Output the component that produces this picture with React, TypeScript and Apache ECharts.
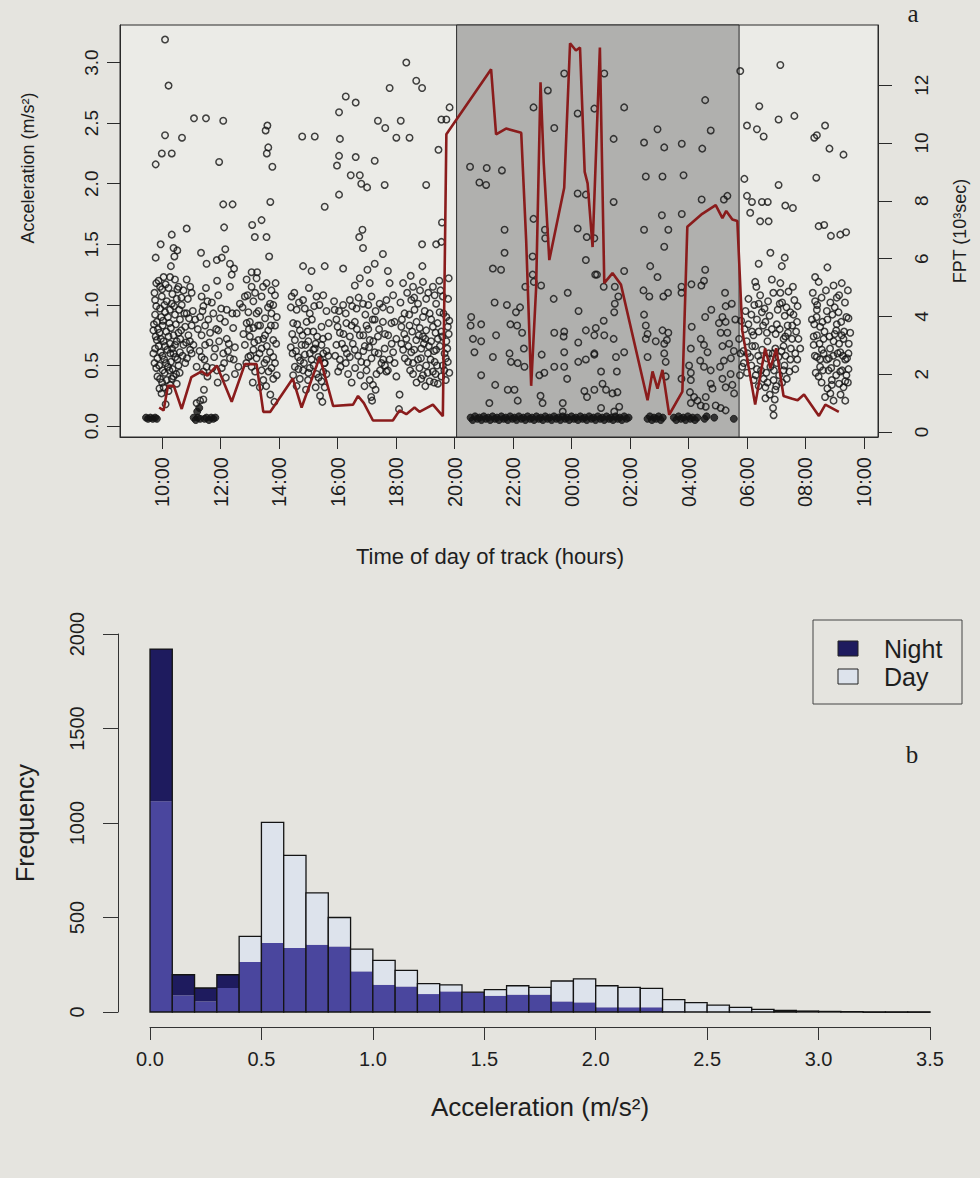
import React, { useEffect, useRef } from 'react';
import * as echarts from 'echarts';

// ---------- Panel a data ----------
const timeTicks = [10, 12, 14, 16, 18, 20, 22, 24, 26, 28, 30, 32, 34];
const accTicks = [0, 0.5, 1, 1.5, 2, 2.5, 3];
const fptTicks = [0, 2, 4, 6, 8, 10, 12];
const nightStart = 20.07;
const nightEnd = 29.73;

// FPT (10^3 sec) vs hour (hours counted from midnight of day 1)
const fptLine = [
  [9.9,0.85],[10.05,0.75],[10.2,1.6],[10.4,1.6],[10.67,0.8],[11.0,1.9],[11.35,2.1],[11.55,1.95],[11.87,2.3],[12.38,1.05],
  [12.83,2.35],[13.23,2.35],[13.46,0.7],[13.7,0.7],[14.47,1.85],[14.77,0.85],[15.39,2.6],[15.85,0.9],[16.53,0.95],[16.7,1.25],
  [16.9,1.0],[17.21,0.4],[17.89,0.4],[18.12,0.75],[18.35,0.62],[18.63,0.85],[18.8,0.7],[19.26,0.95],[19.6,0.55],[19.72,10.3],
  [21.25,12.55],[21.42,10.3],[21.76,10.5],[22.28,10.35],[22.45,6.6],[22.62,1.6],[22.79,5.0],[22.94,12.1],[23.05,9.3],[23.24,5.95],
  [23.75,8.45],[23.95,13.45],[24.15,13.2],[24.29,13.3],[24.45,9.0],[24.55,8.6],[24.72,6.4],[24.97,13.3],[25.12,5.15],[25.4,5.5],
  [25.69,5.1],[26.6,1.1],[26.77,2.1],[26.94,1.5],[27.11,2.15],[27.34,0.6],[27.79,1.4],[27.96,7.1],[28.47,7.55],[28.93,7.85],
  [29.16,7.4],[29.29,7.65],[29.5,7.35],[29.67,7.3],[29.84,3.5],[30.28,0.95],[30.62,2.9],[30.8,2.2],[31.0,2.9],[31.25,1.25],
  [31.55,1.15],[31.73,1.1],[31.95,1.3],[32.46,0.56],[32.68,0.95],[33.14,0.7]
];

// acceleration points, first day period
const dayBefore = [
  [10.10,3.19],[10.22,2.81],[11.09,2.54],[11.50,2.54],[12.09,2.52],[10.10,2.40],[10.68,2.38],[9.99,2.25],[10.33,2.25],[9.78,2.16],
  [11.95,2.18],[13.60,2.48],[13.54,2.44],[13.63,2.30],[13.58,2.25],[13.77,2.14],[12.09,1.83],[12.41,1.83],[13.70,1.85],[12.12,1.64],
  [13.08,1.66],[13.40,1.70],[13.17,1.56],[13.57,1.56],[10.84,1.63],[10.33,1.58],[9.95,1.50],[10.39,1.47],[10.52,1.45],[9.78,1.39],
  [10.42,1.40],[11.33,1.43],[12.16,1.46],[12.04,1.39],[11.87,1.37],[11.52,1.34],[12.32,1.34],[12.46,1.30],[13.66,1.40],[10.30,1.32],[13.06,1.27],
  [9.80,1.18],[10.05,1.23],[10.27,1.23],[10.44,1.21],[9.93,1.15],[10.22,1.14],[10.56,1.15],[10.73,1.12],[10.84,1.21],[10.96,1.15],
  [11.01,1.10],[9.76,1.04],[9.99,1.07],[10.16,1.03],[10.33,1.01],[10.50,1.05],[10.67,1.00],[9.93,0.97],[10.10,0.94],[10.27,0.96],
  [9.76,0.92],[10.44,0.92],[10.61,0.88],[10.84,0.93],[9.82,0.86],[10.02,0.83],[10.25,0.85],[10.79,0.82],[11.01,0.83],[9.70,0.79],
  [9.91,0.77],[10.14,0.78],[10.39,0.75],[10.56,0.77],[10.90,0.75],[9.82,0.71],[10.05,0.70],[10.27,0.68],[10.50,0.70],[10.73,0.67],
  [9.76,0.64],[9.95,0.61],[10.18,0.63],[10.39,0.60],[10.61,0.61],[10.96,0.63],[9.84,0.56],[10.07,0.55],[10.30,0.53],[10.52,0.55],
  [10.79,0.52],[9.80,0.48],[10.02,0.46],[10.25,0.46],[10.48,0.43],[9.93,0.39],[10.16,0.38],[10.39,0.41],[10.05,0.32],[10.27,0.34],[9.91,0.31],
  [9.74,1.10],[9.88,1.20],[10.00,1.13],[10.12,1.17],[10.35,1.09],[10.52,1.13],[10.66,1.06],[9.80,0.99],[9.97,0.90],[10.08,1.00],
  [10.20,0.90],[10.41,0.99],[10.58,0.96],[10.76,0.93],[10.92,0.89],[9.72,0.84],[9.86,0.80],[10.03,0.87],[10.30,0.81],[10.47,0.84],
  [10.65,0.79],[9.78,0.74],[9.96,0.72],[10.10,0.66],[10.22,0.74],[10.34,0.64],[10.44,0.67],[10.62,0.72],[10.82,0.69],[9.70,0.60],
  [9.88,0.66],[10.01,0.58],[10.13,0.52],[10.28,0.60],[10.45,0.57],[10.56,0.50],[10.70,0.58],[9.74,0.52],[9.90,0.50],[10.09,0.44],
  [10.20,0.49],[10.36,0.47],[10.60,0.44],[9.84,0.41],[10.00,0.36],[10.33,0.39],[10.50,0.35],[9.98,0.27],[10.22,0.29],[10.12,0.18],
  [11.05,0.95],[10.88,1.05],[10.95,0.70],[10.85,0.56],
  [11.35,1.07],[11.41,0.99],[11.55,1.03],[11.30,0.90],[11.47,0.83],[11.75,0.93],[11.98,0.89],[12.21,0.96],[11.92,1.08],[12.32,1.15],
  [11.35,0.75],[11.64,0.77],[11.92,0.79],[12.21,0.72],[12.43,0.81],[11.47,0.67],[11.81,0.64],[12.09,0.60],[11.35,0.57],[12.32,0.56],
  [11.52,0.49],[11.87,0.46],[12.49,0.43],[11.41,0.45],[12.04,0.48],[11.18,0.49],[11.07,0.67],[11.13,0.88],[11.01,0.60],[11.30,0.21],
  [11.18,0.19],[11.41,0.22],[11.43,0.30],
  [11.22,0.80],[11.38,0.95],[11.58,0.88],[11.70,1.02],[11.85,0.80],[12.02,0.97],[12.15,0.86],[12.28,0.68],[12.40,0.93],[11.28,0.62],
  [11.45,0.55],[11.62,0.69],[11.78,0.57],[11.95,0.70],[12.12,0.52],[12.25,0.62],[11.55,0.41],[11.72,0.48],[12.18,0.40],[11.90,0.36],
  [12.45,0.55],[11.50,1.14],[11.88,1.20],[12.38,1.25],
  [12.89,1.21],[13.06,1.15],[13.23,1.22],[13.57,1.18],[13.74,1.12],[12.83,1.07],[13.12,1.03],[13.40,1.07],[13.69,1.01],[13.86,1.08],
  [12.95,0.94],[13.23,0.93],[13.52,0.89],[13.74,0.93],[12.89,0.85],[13.12,0.81],[13.35,0.83],[13.63,0.79],[13.86,0.83],[13.00,0.74],
  [13.29,0.71],[13.52,0.75],[13.80,0.71],[12.83,0.67],[13.12,0.63],[13.40,0.64],[13.69,0.61],[12.95,0.57],[13.23,0.56],[13.57,0.55],
  [13.80,0.57],[13.06,0.49],[13.40,0.46],[13.74,0.48],[13.46,0.38],[13.80,0.39],[13.34,0.32],[12.49,0.65],[12.61,0.49],[12.55,0.93],[12.66,1.01],
  [12.75,0.98],[12.92,1.08],[13.00,0.86],[13.18,1.10],[13.30,0.95],[13.45,1.15],[13.62,0.98],[13.80,1.00],[13.92,0.90],[12.78,0.76],
  [12.97,0.80],[13.15,0.69],[13.28,0.83],[13.46,0.72],[13.58,0.66],[13.72,0.83],[13.90,0.68],[12.88,0.52],[13.02,0.58],[13.18,0.45],
  [13.33,0.60],[13.50,0.52],[13.64,0.45],[13.86,0.52],[13.10,0.36],[13.56,0.33],[13.92,0.42],[13.70,0.26],[13.84,0.20],[13.25,1.27],[13.88,1.18],
  [18.35,3.00],[18.69,2.85],[18.89,2.79],[17.78,2.79],[16.28,2.72],[16.62,2.67],[16.05,2.59],[17.38,2.52],[18.16,2.52],[17.63,2.46],
  [19.83,2.63],[19.55,2.53],[19.72,2.53],[14.79,2.39],[15.22,2.39],[16.08,2.37],[18.01,2.38],[18.46,2.38],[19.45,2.28],[16.05,2.23],
  [15.98,2.15],[16.62,2.22],[17.27,2.19],[16.45,2.07],[16.76,2.07],[16.81,2.00],[17.01,1.97],[17.61,1.99],[19.03,1.99],[16.05,1.91],
  [15.56,1.81],[16.85,1.62],[16.74,1.56],[16.87,1.47],[19.57,1.68],[19.55,1.52],[19.37,1.50],[18.89,1.50],[17.55,1.42],[17.27,1.34],
  [18.90,1.32],[14.82,1.32],[15.11,1.28],[15.56,1.32],[16.19,1.30],[17.02,1.29],[16.76,1.22],[17.72,1.28],[18.12,0.26],[18.10,0.14],
  [14.43,1.07],[14.60,0.96],[14.82,1.04],[15.05,0.93],[15.28,1.07],[15.51,1.08],[14.48,0.85],[14.71,0.79],[14.94,0.86],[15.17,0.78],
  [15.45,0.82],[15.68,0.74],[14.54,0.71],[14.77,0.67],[15.00,0.70],[15.22,0.64],[15.45,0.67],[14.46,0.60],[14.65,0.57],[14.88,0.59],
  [15.11,0.55],[15.34,0.57],[15.56,0.52],[14.54,0.49],[14.82,0.46],[15.05,0.48],[15.28,0.43],[15.51,0.45],[14.71,0.39],[14.99,0.38],
  [15.45,0.37],[15.51,0.60],[15.62,0.43],[15.17,0.63],[15.56,0.32],
  [14.40,0.98],[14.52,1.10],[14.68,1.02],[14.88,0.97],[15.02,1.14],[15.20,0.99],[15.38,1.00],[15.62,0.95],[14.45,0.76],[14.62,0.84],
  [14.80,0.75],[14.97,0.78],[15.12,0.88],[15.30,0.74],[15.50,0.72],[15.70,0.85],[14.40,0.65],[14.58,0.62],[14.72,0.54],[14.90,0.67],
  [15.05,0.60],[15.25,0.68],[15.40,0.55],[15.62,0.62],[14.48,0.42],[14.66,0.47],[14.85,0.52],[15.00,0.44],[15.18,0.50],[15.35,0.40],
  [15.55,0.52],[14.60,0.33],[14.92,0.30],[15.25,0.32],[15.40,0.25],[15.48,0.20],[15.68,0.58],
  [15.90,0.96],[16.19,1.00],[16.42,1.04],[16.65,0.97],[16.87,1.01],[17.16,1.07],[17.44,1.01],[17.67,1.04],[17.90,1.08],[16.59,1.16],
  [17.10,1.18],[17.78,1.18],[15.96,0.88],[16.30,0.85],[16.59,0.86],[16.99,0.83],[17.27,0.88],[17.55,0.86],[17.84,0.85],[16.08,0.77],
  [16.42,0.74],[16.76,0.75],[17.10,0.71],[17.38,0.74],[17.73,0.75],[18.01,0.72],[15.96,0.67],[16.25,0.64],[16.59,0.63],[16.93,0.66],
  [17.27,0.61],[17.61,0.64],[17.90,0.61],[16.08,0.55],[16.42,0.57],[16.81,0.53],[17.16,0.56],[17.50,0.52],[17.78,0.55],[16.02,0.45],
  [16.36,0.43],[16.99,0.46],[17.33,0.43],[17.67,0.45],[17.10,0.38],[17.21,0.34],[17.72,0.46],[18.01,0.41],
  [15.88,1.03],[16.05,0.95],[16.28,0.93],[16.50,0.99],[16.72,1.06],[16.95,0.92],[17.05,1.00],[17.30,0.95],[17.55,0.98],[17.80,0.96],
  [16.00,0.82],[16.20,0.76],[16.48,0.83],[16.66,0.80],[16.88,0.75],[17.05,0.80],[17.20,0.88],[17.42,0.80],[17.62,0.76],[17.95,0.86],
  [15.92,0.58],[16.15,0.68],[16.32,0.60],[16.52,0.68],[16.70,0.58],[16.88,0.62],[17.08,0.65],[17.22,0.70],[17.40,0.60],[17.56,0.55],
  [17.85,0.68],[16.10,0.49],[16.28,0.52],[16.60,0.48],[16.78,0.42],[17.00,0.52],[17.45,0.46],[17.62,0.50],[17.95,0.52],[16.48,0.36],
  [16.92,0.33],[17.30,0.30],[17.15,0.24],[17.18,0.21],
  [18.24,1.18],[18.58,1.15],[18.92,1.19],[19.26,1.15],[18.52,1.04],[18.75,1.01],[19.03,1.05],[19.37,1.01],[19.60,1.07],[18.29,0.93],
  [18.63,0.96],[18.92,0.90],[19.15,0.93],[19.49,0.94],[19.72,0.90],[18.18,0.82],[18.46,0.83],[18.81,0.81],[19.03,0.79],[19.26,0.82],
  [19.55,0.78],[19.77,0.82],[18.35,0.72],[18.69,0.71],[18.92,0.74],[19.20,0.70],[19.43,0.72],[19.72,0.70],[18.24,0.63],[18.52,0.61],
  [18.86,0.64],[19.09,0.60],[19.37,0.63],[19.66,0.60],[18.41,0.53],[18.75,0.55],[19.03,0.50],[19.32,0.53],[19.60,0.50],[19.77,0.53],
  [18.58,0.43],[18.92,0.42],[19.26,0.45],[19.55,0.41],[19.15,0.37],[19.43,0.35],[18.86,0.39],
  [18.15,1.02],[18.38,1.10],[18.62,1.06],[18.82,1.12],[19.10,1.10],[19.32,1.08],[19.52,1.12],[19.78,1.05],[18.20,0.88],[18.45,0.92],
  [18.70,0.86],[18.98,0.95],[19.20,0.88],[19.42,0.85],[19.62,0.93],[19.82,0.87],[18.28,0.76],[18.55,0.78],[18.78,0.75],[19.00,0.72],
  [19.35,0.77],[19.58,0.74],[19.80,0.76],[18.18,0.68],[18.42,0.66],[18.62,0.63],[18.95,0.68],[19.12,0.66],[19.30,0.62],[19.50,0.66],
  [19.75,0.64],[18.30,0.56],[18.58,0.52],[18.85,0.56],[19.18,0.55],[19.40,0.50],[19.70,0.56],[18.48,0.46],[18.80,0.48],[19.08,0.44],
  [19.35,0.43],[19.65,0.46],[19.82,0.44],[18.70,0.36],[19.00,0.33],[19.30,0.36],[19.70,0.38],[19.80,1.22],[19.48,1.20],[18.50,1.24]
];

// acceleration points, night period
const nightPts = [
  [20.53,2.14],[21.10,2.13],[21.62,2.11],[20.85,2.01],[21.08,1.99],[21.71,1.62],[21.71,1.43],[21.31,1.30],[21.59,1.29],[21.37,1.02],
  [21.79,1.00],[22.10,0.94],[22.24,0.98],[20.57,0.90],[20.55,0.83],[20.91,0.84],[20.63,0.72],[20.91,0.70],[20.68,0.61],[21.42,0.75],
  [21.91,0.84],[22.14,0.83],[22.31,0.77],[21.31,0.57],[21.88,0.60],[21.93,0.53],[22.16,0.52],[22.39,0.49],[22.37,0.64],[20.91,0.42],
  [21.39,0.34],[21.82,0.30],[22.05,0.30],[21.19,0.19],[22.16,0.21],[22.70,2.63],[23.19,2.77],[23.41,2.46],[22.70,1.71],[23.09,1.62],
  [23.10,1.55],[22.67,1.40],[22.67,1.25],[22.71,1.19],[22.96,1.16],[22.42,1.15],[23.39,1.05],[23.87,1.10],[24.24,0.95],[23.41,0.77],
  [23.75,0.78],[23.73,0.74],[24.23,0.69],[23.75,0.61],[22.98,0.59],[23.41,0.49],[23.75,0.49],[24.23,0.53],[24.49,0.55],[24.78,0.59],
  [24.49,0.79],[24.78,0.75],[23.07,0.44],[22.90,0.42],[23.85,0.39],[22.94,0.25],[23.01,0.19],[23.70,0.19],[24.44,0.29],[24.53,0.24],
  [24.78,0.30],[23.70,0.12],[23.75,2.91],[24.21,2.58],[24.78,2.62],[24.21,1.92],[24.49,1.91],[24.21,1.63],[24.52,1.56],[24.49,1.37],[24.81,1.25],
  [25.12,2.91],[25.80,2.63],[25.44,2.37],[26.94,2.45],[26.48,2.34],[27.17,2.30],[27.77,2.33],[28.57,2.69],[28.76,2.44],[28.47,2.29],
  [26.54,2.06],[27.11,2.06],[27.83,2.07],[25.44,1.85],[28.45,1.87],[29.21,1.87],[29.33,1.90],[27.09,1.74],[27.77,1.75],[26.48,1.62],
  [27.31,1.62],[27.17,1.48],[24.78,1.55],[26.69,1.32],[26.94,1.23],[25.80,1.28],[28.57,1.29],[24.87,1.25],[25.10,1.15],[25.48,1.15],
  [26.46,1.12],[26.66,1.07],[27.14,1.07],[27.30,1.10],[27.76,1.15],[27.76,1.10],[28.10,1.17],[28.44,1.16],[28.53,1.20],[29.25,1.10],
  [25.60,1.07],[25.48,1.01],[25.46,0.94],[26.48,0.92],[28.57,0.90],[28.78,0.96],[29.27,0.99],[29.48,1.01],[25.10,0.87],[26.54,0.83],
  [29.16,0.90],[29.27,0.86],[24.83,0.81],[25.12,0.75],[25.44,0.72],[26.60,0.76],[26.54,0.72],[27.11,0.79],[27.31,0.77],[28.11,0.82],
  [26.88,0.70],[27.17,0.68],[27.26,0.71],[29.04,0.85],[29.10,0.77],[29.33,0.77],[29.39,0.68],[28.42,0.72],[28.53,0.67],[28.65,0.61],
  [29.16,0.66],[24.78,0.60],[25.52,0.57],[25.80,0.61],[26.60,0.57],[27.17,0.60],[28.02,0.50],[28.08,0.64],[28.40,0.54],[28.53,0.49],
  [28.76,0.46],[29.08,0.49],[29.21,0.54],[29.44,0.43],[25.01,0.45],[25.55,0.45],[27.22,0.53],[27.22,0.41],[28.08,0.44],[28.08,0.38],
  [25.06,0.35],[25.18,0.30],[25.40,0.27],[25.57,0.28],[27.76,0.39],[28.05,0.28],[28.76,0.35],[28.82,0.31],[29.16,0.39],[29.27,0.32],
  [29.50,0.34],[29.56,0.27],[28.19,0.24],[28.31,0.21],[28.08,0.19],[28.42,0.17],[28.59,0.24],[28.59,0.16],[28.93,0.17],[29.10,0.15],
  [29.27,0.13],[25.63,0.16],[25.46,0.12],[25.01,0.15],[29.60,0.88],[29.55,0.62],[29.45,0.56]
];

// acceleration points, second day period
const dayAfter = [
  [29.73,0.72],[29.78,0.60],[29.84,0.49],[29.76,0.42],[29.80,0.87],
  [29.77,2.93],[31.14,2.98],[30.42,2.64],[31.08,2.53],[31.62,2.56],[30.00,2.48],[30.34,2.45],[30.57,2.39],[32.67,2.48],[32.39,2.40],
  [32.30,2.38],[32.82,2.29],[33.30,2.24],[29.91,2.04],[31.08,1.99],[32.37,2.05],[30.00,1.90],[30.17,1.85],[30.51,1.85],[30.71,1.85],
  [31.31,1.82],[31.57,1.80],[30.11,1.76],[30.45,1.69],[30.74,1.69],[32.45,1.65],[32.64,1.66],[32.87,1.57],[33.19,1.58],[33.39,1.60],
  [30.80,1.43],[30.40,1.34],[31.29,1.39],[31.19,1.32],[32.75,1.31],[30.85,1.21],[31.14,1.18],[30.28,1.19],[30.32,1.15],[32.33,1.23],
  [32.45,1.19],[32.96,1.16],[33.24,1.18],[31.57,1.15],[31.42,1.11],[31.14,1.10],[33.07,1.06],[32.33,1.03],[30.40,1.01],[31.12,1.01],
  [31.73,0.99],[30.51,0.94],[30.77,0.91],[31.29,0.91],[31.59,0.92],[32.39,0.96],[32.73,0.95],[33.13,0.94],[33.47,0.89],[30.34,0.88],
  [30.63,0.86],[31.02,0.84],[31.39,0.83],[31.71,0.86],[32.30,0.84],[32.50,0.82],[33.07,0.84],[33.32,0.78],[30.17,0.78],[30.68,0.77],
  [31.31,0.74],[31.54,0.72],[31.76,0.72],[32.39,0.75],[32.62,0.72],[32.96,0.70],[33.24,0.75],[33.53,0.77],[29.99,0.70],[30.28,0.66],
  [30.97,0.64],[31.25,0.66],[31.82,0.64],[32.28,0.67],[32.56,0.63],[32.84,0.64],[33.19,0.61],[33.47,0.60],[30.11,0.57],[30.46,0.54],
  [30.74,0.60],[31.08,0.57],[31.48,0.55],[31.65,0.60],[32.39,0.57],[32.73,0.55],[33.07,0.52],[33.36,0.55],[29.89,0.52],[30.34,0.47],
  [30.80,0.49],[31.25,0.46],[31.65,0.47],[32.50,0.49],[32.79,0.46],[33.19,0.45],[33.47,0.47],[30.23,0.38],[30.57,0.39],[30.91,0.38],
  [31.36,0.39],[32.45,0.41],[32.90,0.38],[33.36,0.37],[30.63,0.32],[30.97,0.30],[32.90,0.34],[33.30,0.32],[30.63,0.23],[32.67,0.24],
  [32.96,0.21],[33.36,0.21],[30.89,0.15],[30.91,0.09],
  [29.95,0.95],[30.05,1.05],[30.15,0.92],[30.25,1.00],[30.45,1.08],[30.60,0.97],[30.72,1.03],[30.90,1.10],[31.05,0.96],[31.20,1.02],
  [31.35,0.98],[31.48,0.94],[31.62,1.04],[29.92,0.80],[30.05,0.84],[30.22,0.75],[30.40,0.78],[30.55,0.83],[30.70,0.70],[30.85,0.80],
  [30.98,0.76],[31.12,0.80],[31.25,0.72],[31.40,0.77],[31.55,0.83],[31.68,0.78],[29.88,0.62],[30.02,0.60],[30.18,0.66],[30.38,0.58],
  [30.52,0.63],[30.68,0.56],[30.88,0.60],[31.02,0.52],[31.18,0.62],[31.32,0.58],[31.50,0.64],[31.72,0.55],[30.00,0.44],[30.15,0.50],
  [30.30,0.42],[30.48,0.46],[30.66,0.44],[30.92,0.46],[31.10,0.42],[31.28,0.50],[31.45,0.45],[30.40,0.33],[30.70,0.36],[31.00,0.33],
  [31.20,0.36],[30.78,0.26],[30.95,0.22],
  [32.25,1.10],[32.40,1.00],[32.55,1.06],[32.70,1.12],[32.85,1.02],[33.00,0.98],[33.15,1.08],[33.35,1.02],[33.45,1.12],[32.22,0.88],
  [32.38,0.90],[32.58,0.86],[32.75,0.88],[32.92,0.92],[33.05,0.79],[33.22,0.86],[33.40,0.90],[32.28,0.74],[32.48,0.68],[32.65,0.78],
  [32.82,0.74],[33.00,0.76],[33.15,0.68],[33.30,0.72],[33.48,0.68],[32.32,0.58],[32.50,0.55],[32.62,0.60],[32.80,0.56],[32.95,0.58],
  [33.10,0.60],[33.28,0.58],[33.42,0.56],[32.35,0.44],[32.60,0.46],[32.88,0.48],[33.05,0.42],[33.25,0.46],[33.40,0.42],[32.55,0.36],
  [32.75,0.31],[33.15,0.35],[33.45,0.36],[32.85,0.27],[33.20,0.26]
];

// near-zero acceleration (resting) points
const restPts = [
  [9.45,0.07],[9.52,0.06],[9.60,0.07],[9.68,0.06],[9.76,0.07],[9.82,0.06],
  [11.08,0.07],[11.15,0.05],[11.22,0.07],[11.30,0.06],[11.20,0.12],[11.27,0.15],
  [11.45,0.06],[11.52,0.07],[11.60,0.05],[11.68,0.07],[11.75,0.06],[11.82,0.07],
  [20.55,0.07],[20.62,0.05],[20.70,0.08],[20.78,0.06],[20.85,0.07],[20.92,0.05],[21.00,0.08],[21.07,0.06],[21.15,0.07],[21.22,0.05],
  [21.30,0.08],[21.38,0.06],[21.45,0.07],[21.52,0.05],[21.60,0.08],[21.68,0.06],[21.75,0.07],[21.82,0.05],[21.90,0.08],[21.98,0.06],
  [22.05,0.07],[22.12,0.05],[22.20,0.08],[22.28,0.06],[22.35,0.07],[22.42,0.05],[22.50,0.08],[22.58,0.06],[22.65,0.07],[22.72,0.05],
  [22.80,0.08],[22.88,0.06],[22.95,0.07],[23.02,0.05],[23.10,0.08],[23.18,0.06],[23.25,0.07],[23.32,0.05],[23.40,0.08],[23.48,0.06],
  [23.55,0.07],[23.62,0.05],[23.70,0.08],[23.78,0.06],[23.85,0.07],[23.92,0.05],[24.00,0.08],[24.08,0.06],[24.15,0.07],[24.22,0.05],
  [24.30,0.08],[24.38,0.06],[24.45,0.07],[24.52,0.05],[24.60,0.08],[24.68,0.06],[24.75,0.07],[24.82,0.05],[24.90,0.08],[24.98,0.06],
  [25.05,0.07],[25.12,0.05],[25.20,0.08],[25.28,0.06],[25.35,0.07],[25.42,0.05],[25.50,0.08],[25.58,0.06],[25.65,0.07],[25.72,0.05],
  [25.80,0.08],[25.88,0.06],[25.95,0.07],
  [26.60,0.06],[26.68,0.08],[26.75,0.05],[26.82,0.07],[26.90,0.06],[26.98,0.08],[27.05,0.05],[27.12,0.07],
  [27.50,0.07],[27.58,0.05],[27.66,0.08],[27.74,0.06],[27.82,0.07],[27.90,0.05],[27.98,0.08],[28.06,0.06],[28.14,0.07],[28.22,0.05],[28.30,0.07],
  [28.55,0.06],[28.62,0.08],[28.88,0.07],[29.55,0.06]
];

// ---------- Panel b data ----------
const binStarts = [0,0.1,0.2,0.3,0.4,0.5,0.6,0.7,0.8,0.9,1.0,1.1,1.2,1.3,1.4,1.5,1.6,1.7,1.8,1.9,2.0,2.1,2.2,2.3,2.4,2.5,2.6,2.7,2.8,2.9,3.0,3.1,3.2,3.3,3.4];
const binWidth = 0.1;
const nightCounts = [1920,197,127,197,265,365,339,356,347,215,144,135,95,109,105,86,92,92,56,51,25,25,25,4,2,1,0,0,0,0,0,0,0,0,0];
const dayCounts = [1115,88,56,127,400,1003,829,630,500,333,273,220,150,144,104,118,139,130,164,175,139,130,125,65,50,36,24,14,8,5,3,2,1,1,1];
const accBinTicks = [0,0.5,1,1.5,2,2.5,3,3.5];
const freqTicks = [0,500,1000,1500,2000];

const NIGHT_COLOR = '#1e1b5e';
const DAY_COLOR = '#dde3ec';
const OVERLAP_COLOR = '#4a469e';
const FONT = 'Liberation Sans, Arial, Helvetica, sans-serif';
const SERIF = 'Liberation Serif, DejaVu Serif, Times New Roman, serif';
const TXT = '#1e1e1e';

function pad(n: number) { return (n < 10 ? '0' : '') + n; }

export default function App() {
  const ref = useRef<HTMLDivElement>(null);
  useEffect(() => {
    document.body.style.margin = '0';
    if (!ref.current) return;
    const chart = echarts.init(ref.current, undefined, { renderer: 'svg' });
    const histData = binStarts.map((b, i) => [b, Math.round((b + binWidth) * 10) / 10, nightCounts[i], dayCounts[i]]);
    const pointStyle = { color: 'rgba(0,0,0,0)', borderColor: '#141414', borderWidth: 1.5 };
    const option: any = {
      animation: false,
      backgroundColor: '#e5e4df',
      grid: [
        { left: 120, right: 102, top: 25, height: 412, show: true, backgroundColor: '#ebebe7', borderColor: '#2a2a2a', borderWidth: 1 },
        { left: 150, right: 50, top: 634, height: 378, show: false }
      ],
      xAxis: [
        {
          type: 'value', gridIndex: 0, min: 8.56, max: 34.48,
          axisLine: { show: true, onZero: false, lineStyle: { color: '#2a2a2a' } },
          axisTick: { show: true, customValues: timeTicks, length: 12, lineStyle: { color: '#2a2a2a' } },
          axisLabel: { show: true, customValues: timeTicks, rotate: 90, margin: 20, fontSize: 20, fontFamily: FONT, color: TXT,
            formatter: (v: number) => pad(Math.round(v) % 24) + ':00' },
          splitLine: { show: false }
        },
        {
          type: 'value', gridIndex: 1, min: 0, max: 3.5, interval: 0.5, offset: 15,
          axisLine: { show: true, onZero: false, lineStyle: { color: '#333' } },
          axisTick: { show: true, customValues: accBinTicks, length: 13, lineStyle: { color: '#333' } },
          axisLabel: { customValues: accBinTicks, margin: 22, fontSize: 20, fontFamily: FONT, color: TXT, formatter: (v: number) => v.toFixed(1) },
          splitLine: { show: false }
        }
      ],
      yAxis: [
        {
          type: 'value', gridIndex: 0, min: -0.09, max: 3.31, position: 'left',
          axisLine: { show: true, onZero: false, lineStyle: { color: '#2a2a2a' } },
          axisTick: { show: true, customValues: accTicks, length: 13, lineStyle: { color: '#2a2a2a' } },
          axisLabel: { customValues: accTicks, rotate: 90, margin: 19, fontSize: 19, fontFamily: FONT, color: TXT,
            formatter: (v: number) => v.toFixed(1) },
          splitLine: { show: false }
        },
        {
          type: 'value', gridIndex: 0, min: -0.17, max: 14.08, position: 'right',
          axisLine: { show: true, onZero: false, lineStyle: { color: '#2a2a2a' } },
          axisTick: { show: true, customValues: fptTicks, length: 14, lineStyle: { color: '#2a2a2a' } },
          axisLabel: { customValues: fptTicks, rotate: 90, margin: 34, fontSize: 19, fontFamily: FONT, color: TXT,
            formatter: (v: number) => String(v) },
          splitLine: { show: false }
        },
        {
          type: 'value', gridIndex: 1, min: 0, max: 2000, offset: 32,
          axisLine: { show: true, onZero: false, lineStyle: { color: '#333' } },
          axisTick: { show: true, customValues: freqTicks, length: 15, lineStyle: { color: '#333' } },
          axisLabel: { customValues: freqTicks, rotate: 90, margin: 31, fontSize: 20, fontFamily: FONT, color: TXT,
            formatter: (v: number) => String(v) },
          splitLine: { show: false }
        }
      ],
      series: [
        {
          type: 'line', xAxisIndex: 0, yAxisIndex: 0, data: [[nightStart, 0]], showSymbol: false, silent: true, z: 1,
          lineStyle: { opacity: 0 },
          markArea: {
            silent: true,
            itemStyle: { color: '#b0b0ae', borderColor: '#2a2a2a', borderWidth: 1 },
            data: [[{ xAxis: nightStart }, { xAxis: nightEnd }]]
          }
        },
        { type: 'scatter', name: 'day1', xAxisIndex: 0, yAxisIndex: 0, data: dayBefore, symbol: 'circle', symbolSize: 6.5, z: 3, itemStyle: pointStyle },
        { type: 'scatter', name: 'night', xAxisIndex: 0, yAxisIndex: 0, data: nightPts, symbol: 'circle', symbolSize: 6.5, z: 3, itemStyle: pointStyle },
        { type: 'scatter', name: 'day2', xAxisIndex: 0, yAxisIndex: 0, data: dayAfter, symbol: 'circle', symbolSize: 6.5, z: 3, itemStyle: pointStyle },
        { type: 'scatter', name: 'rest', xAxisIndex: 0, yAxisIndex: 0, data: restPts, symbol: 'circle', symbolSize: 7, z: 3,
          itemStyle: { color: '#141414', borderColor: '#141414', borderWidth: 1 } },
        { type: 'line', name: 'FPT', xAxisIndex: 0, yAxisIndex: 1, data: fptLine, showSymbol: false, z: 4,
          lineStyle: { color: '#8a1c1c', width: 2.6 } },
        {
          type: 'custom', name: 'hist', xAxisIndex: 1, yAxisIndex: 2, data: histData,
          encode: { x: [0, 1], y: [2, 3] },
          renderItem: (params: any, api: any) => {
            const x0 = api.value(0), x1 = api.value(1), n = api.value(2), d = api.value(3);
            const lo = Math.min(n, d), hi = Math.max(n, d);
            const p0 = api.coord([x0, 0]);
            const pLo = api.coord([x1, lo]);
            const pHi = api.coord([x1, hi]);
            const w = pLo[0] - p0[0];
            const children: any[] = [];
            if (lo > 0) children.push({ type: 'rect', shape: { x: p0[0], y: pLo[1], width: w, height: p0[1] - pLo[1] }, style: { fill: OVERLAP_COLOR } });
            if (hi > lo) children.push({ type: 'rect', shape: { x: p0[0], y: pHi[1], width: w, height: pLo[1] - pHi[1] }, style: { fill: n > d ? NIGHT_COLOR : DAY_COLOR } });
            children.push({ type: 'rect', shape: { x: p0[0], y: pHi[1], width: w, height: Math.max(p0[1] - pHi[1], 0.5) }, style: { fill: 'none', stroke: '#141414', lineWidth: 1.3 } });
            return { type: 'group', children };
          }
        }
      ],
      graphic: [
        { type: 'text', x: 28, y: 168, rotation: Math.PI / 2, style: { text: 'Acceleration (m/s²)', fontSize: 18, fontFamily: FONT, fill: TXT, align: 'center', verticalAlign: 'middle' } },
        { type: 'text', x: 960, y: 231, rotation: Math.PI / 2, style: { text: 'FPT (10³sec)', fontSize: 18, fontFamily: FONT, fill: TXT, align: 'center', verticalAlign: 'middle' } },
        { type: 'text', x: 490, y: 556, style: { text: 'Time of day of track (hours)', fontSize: 22, fontFamily: FONT, fill: TXT, align: 'center', verticalAlign: 'middle' } },
        { type: 'text', x: 913, y: 13, style: { text: 'a', fontSize: 25, fontFamily: SERIF, fill: TXT, align: 'center', verticalAlign: 'middle' } },
        { type: 'text', x: 25, y: 823, rotation: Math.PI / 2, style: { text: 'Frequency', fontSize: 25, fontFamily: FONT, fill: TXT, align: 'center', verticalAlign: 'middle' } },
        { type: 'text', x: 540, y: 1107, style: { text: 'Acceleration (m/s²)', fontSize: 26, fontFamily: FONT, fill: TXT, align: 'center', verticalAlign: 'middle' } },
        { type: 'text', x: 912, y: 754, style: { text: 'b', fontSize: 25, fontFamily: SERIF, fill: TXT, align: 'center', verticalAlign: 'middle' } },
        { type: 'rect', shape: { x: 813, y: 620, width: 149, height: 84 }, style: { fill: 'none', stroke: '#444', lineWidth: 1 } },
        { type: 'rect', shape: { x: 838, y: 641, width: 20, height: 15 }, style: { fill: NIGHT_COLOR, stroke: '#222', lineWidth: 1 } },
        { type: 'rect', shape: { x: 838, y: 669, width: 20, height: 15 }, style: { fill: DAY_COLOR, stroke: '#222', lineWidth: 1 } },
        { type: 'text', x: 884, y: 649, style: { text: 'Night', fontSize: 25, fontFamily: FONT, fill: TXT, align: 'left', verticalAlign: 'middle' } },
        { type: 'text', x: 884, y: 677, style: { text: 'Day', fontSize: 25, fontFamily: FONT, fill: TXT, align: 'left', verticalAlign: 'middle' } }
      ]
    };
    chart.setOption(option);
    return () => { chart.dispose(); };
  }, []);
  return <div ref={ref} style={{ width: 980, height: 1178, background: '#e5e4df' }} />;
}
